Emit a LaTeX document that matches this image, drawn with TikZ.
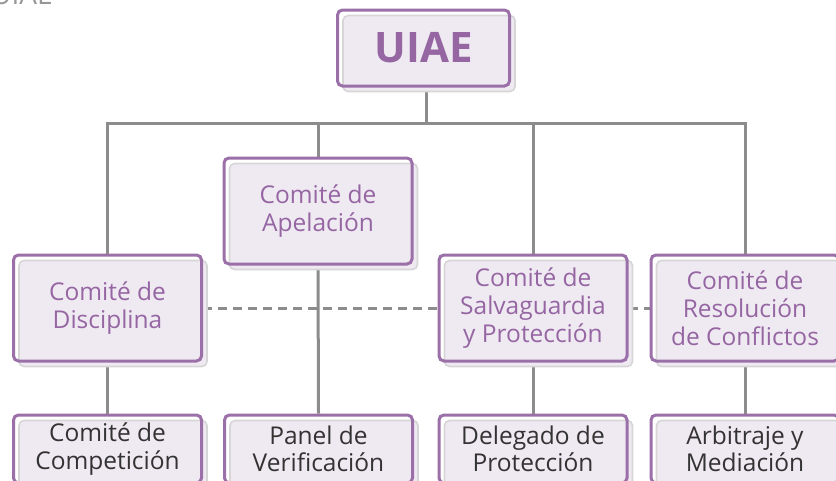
\documentclass[tikz,border=0pt]{standalone}
\usepackage{fontspec}
\setmainfont{Open Sans}
\usetikzlibrary{shadows}
\definecolor{pborder}{HTML}{9B6FA8}
\definecolor{ptext}{HTML}{9566A2}
\definecolor{pfill}{HTML}{EFE9F2}
\definecolor{sborder}{HTML}{D6D6D6}
\definecolor{lgray}{HTML}{8C8C8C}
\definecolor{dtext}{HTML}{333333}
\pgfdeclarelayer{bg}
\pgfsetlayers{bg,main}
\begin{document}
\begin{tikzpicture}[x=1pt,y=-1pt,
  orgbox/.style={draw=pborder, line width=3pt, rounded corners=5pt, align=center, inner sep=0pt,
    copy shadow={shadow xshift=5.5pt, shadow yshift=-5.5pt, fill=pfill, draw=sborder, line width=1.6pt}},
  midbox/.style={orgbox, minimum width=188pt, minimum height=106pt, text=ptext, font=\fontsize{24.5}{28}\selectfont},
  lowbox/.style={orgbox, minimum width=188pt, minimum height=68pt, text=dtext, font=\fontsize{24.5}{27.5}\selectfont},
  conn/.style={draw=lgray, line width=3pt},
  dashconn/.style={conn, dash pattern=on 9pt off 6pt}]
\useasboundingbox (0,0) rectangle (836,480);
\node[text=lgray!90, font=\fontsize{28}{30}\selectfont, anchor=base west, inner sep=0pt] (title) at (-9,4) {UIAE};
\node[orgbox, minimum width=172pt, minimum height=76pt, text=ptext, font=\fontsize{42}{46}\selectfont\bfseries] (uiae) at (423.5,48) {UIAE};
\node[midbox] (apel) at (318,211) {Comité de\\Apelación};
\node[midbox] (disc) at (107.5,308) {Comité de\\Disciplina};
\node[midbox] (salv) at (533,308) {Comité de\\Salvaguardia\\y Protección};
\node[midbox] (resol) at (745,308) {Comité de\\Resolución\\de Conflictos};
\node[lowbox] (comp) at (107.5,449) {Comité de\\Competición};
\node[lowbox] (panel) at (318.5,449) {Panel de\\Verificación};
\node[lowbox] (deleg) at (533,449) {Delegado de\\Protección};
\node[lowbox] (arbit) at (745,449) {Arbitraje y\\Mediación};
\coordinate (bus) at (426,123);
\begin{pgfonlayer}{bg}
\draw[conn] (bus |- uiae.south) -- (bus);
\draw[conn] (disc.north) |- (resol.north |- bus) -- (resol.north);
\draw[conn] (apel.north |- bus) -- (apel.north);
\draw[conn] (salv.north |- bus) -- (salv.north);
\draw[conn] (disc.south) -- (comp.north);
\draw[conn] (apel.south) -- (panel.north);
\draw[conn] (salv.south) -- (deleg.north);
\draw[conn] (resol.south) -- (arbit.north);
\draw[dashconn] (disc.east) -- (salv.west);
\draw[dashconn] (salv.east) -- (resol.west);
\end{pgfonlayer}
\end{tikzpicture}
\end{document}
